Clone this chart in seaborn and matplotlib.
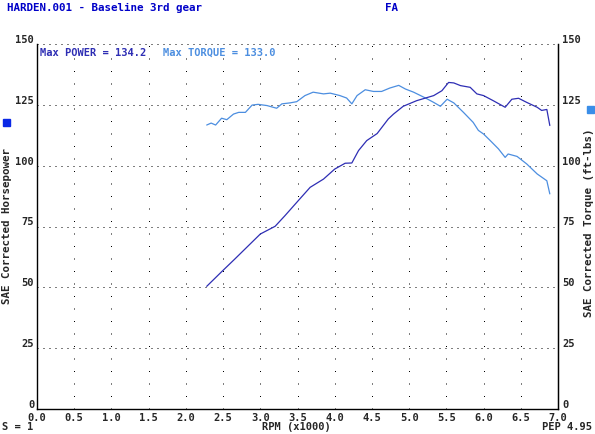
import numpy as np
import pandas as pd
import seaborn as sns
import matplotlib
matplotlib.use("Agg")
import matplotlib.pyplot as plt

# power curve (rpm x1000, hp)
hp_rpm = [2.28, 2.48, 2.66, 2.84, 3.00, 3.20, 3.33, 3.53, 3.67, 3.85, 4.00, 4.14, 4.23,
          4.32, 4.43, 4.57, 4.72, 4.79, 4.92, 5.10, 5.33, 5.44, 5.53, 5.60, 5.69, 5.82,
          5.91, 6.00, 6.13, 6.29, 6.38, 6.47, 6.58, 6.72, 6.78, 6.85, 6.89]
hp = [50.4, 56.4, 61.7, 67.1, 71.9, 75.1, 79.4, 86.3, 91.1, 94.5, 98.6, 101.0, 101.1,
      106.2, 110.3, 113.2, 119.2, 121.2, 124.4, 126.7, 128.8, 130.8, 134.2, 134.0, 132.9, 132.2,
      129.5, 128.8, 126.7, 124.0, 127.3, 127.7, 126.0, 124.0, 122.7, 123.1, 116.5]

# torque curve (rpm x1000, ft-lbs)
tq_rpm = [2.28, 2.34, 2.40, 2.48, 2.55, 2.64, 2.71, 2.80, 2.89, 2.97, 3.09, 3.22, 3.29,
          3.40, 3.49, 3.60, 3.71, 3.85, 3.94, 4.07, 4.16, 4.23, 4.30, 4.41, 4.52, 4.63,
          4.74, 4.86, 4.95, 5.06, 5.22, 5.33, 5.42, 5.51, 5.60, 5.73, 5.86, 5.93, 6.00,
          6.09, 6.20, 6.29, 6.33, 6.45, 6.58, 6.72, 6.85, 6.89]
torque = [116.7, 117.5, 116.7, 119.5, 118.9, 121.2, 121.9, 121.9, 124.9, 125.2, 124.7, 123.6, 125.4,
          125.8, 126.3, 128.8, 130.2, 129.5, 129.8, 128.8, 127.8, 125.4, 128.8, 131.2, 130.5, 130.5,
          131.9, 133.0, 131.5, 130.2, 127.8, 126.0, 124.4, 127.3, 125.8, 121.9, 117.8, 114.5, 113.0,
          110.3, 106.9, 103.4, 104.8, 103.8, 100.7, 96.6, 93.8, 88.4]

x_ticks = np.arange(0, 7.01, 0.5)
y_ticks = [0, 25, 50, 75, 100, 125, 150]

POWER_C = "#2e2eb4"
TORQUE_C = "#4c8ee0"
TITLE_C = "#0000c8"

sns.set_style("white")
plt.rcParams["font.family"] = ["DejaVu Sans Mono"]
plt.rcParams["font.weight"] = "bold"

df_hp = pd.DataFrame({"rpm": hp_rpm, "val": hp})
df_tq = pd.DataFrame({"rpm": tq_rpm, "val": torque})

fig = plt.figure(figsize=(5.95, 4.35), dpi=100)
ax = fig.add_axes([37 / 595, 25 / 435, 521 / 595, 365 / 435])

sns.lineplot(data=df_tq, x="rpm", y="val", ax=ax, color=TORQUE_C, lw=0.9)
sns.lineplot(data=df_hp, x="rpm", y="val", ax=ax, color=POWER_C, lw=0.9)

ax.set_xlim(0, 7)
ax.set_ylim(0, 150)
ax.set_xlabel("")
ax.set_ylabel("")

# dotted grid like the dyno printout
for y in y_ticks[1:]:
    ax.axhline(y, color="black", lw=0.72, ls=(0, (1, 5)), zorder=0)
for x in x_ticks[1:-1]:
    ax.axvline(x, color="black", lw=0.72, ls=(0, (1, 11.5)), zorder=0)

for s in ["left", "right", "bottom"]:
    ax.spines[s].set_color("black")
    ax.spines[s].set_linewidth(1.0)
ax.spines["top"].set_visible(False)

ax.set_xticks(x_ticks)
ax.set_xticklabels([f"{v:.1f}" for v in x_ticks], fontsize=7.5)
ax.set_yticks(y_ticks)
ax.set_yticklabels([str(v) for v in y_ticks], fontsize=7.5)
ax.tick_params(axis="both", length=0, pad=2)
for lab in ax.get_yticklabels():
    lab.set_va("bottom")

ax2 = ax.twinx()
ax2.set_ylim(0, 150)
ax2.set_yticks(y_ticks)
ax2.set_yticklabels([str(v) for v in y_ticks], fontsize=7.5)
ax2.tick_params(axis="y", length=0, pad=3)
for lab in ax2.get_yticklabels():
    lab.set_va("bottom")
for s in ["top", "left", "bottom"]:
    ax2.spines[s].set_visible(False)
ax2.spines["right"].set_color("black")

box = dict(facecolor="white", edgecolor="none", pad=0.5)
ax.text(0.005, 0.993, "Max POWER = 134.2", transform=ax.transAxes, color=POWER_C,
        fontsize=7.5, va="top", ha="left", bbox=box, zorder=5)
ax.text(0.242, 0.993, "Max TORQUE = 133.0", transform=ax.transAxes, color=TORQUE_C,
        fontsize=7.5, va="top", ha="left", bbox=box, zorder=5)

fig.text(7 / 595, 1 - 8 / 435, "HARDEN.001 - Baseline 3rd gear", color=TITLE_C,
         fontsize=7.8, va="center", ha="left")
fig.text(385 / 595, 1 - 8 / 435, "FA", color=TITLE_C, fontsize=7.8, va="center", ha="left")

fig.text(7 / 595, 1 - 226 / 435, "SAE Corrected Horsepower", rotation=90,
         fontsize=7.8, va="center", ha="center")
fig.text(589 / 595, 1 - 223 / 435, "SAE Corrected Torque (ft-lbs)", rotation=90,
         fontsize=7.8, va="center", ha="center")
fig.patches.append(plt.Rectangle((3 / 595, 1 - 127 / 435), 7 / 595, 7 / 435,
                                 color="#0a28e6", transform=fig.transFigure))
fig.patches.append(plt.Rectangle((587 / 595, 1 - 114 / 435), 7 / 595, 7 / 435,
                                 color="#3a8ee8", transform=fig.transFigure))

fig.text(2 / 595, 1 - 427 / 435, "S = 1", fontsize=7.5, va="center", ha="left")
fig.text(296 / 595, 1 - 427 / 435, "RPM (x1000)", fontsize=7.5, va="center", ha="center")
fig.text(592 / 595, 1 - 427 / 435, "PEP 4.95", fontsize=7.5, va="center", ha="right")

fig.savefig("out.png", dpi=100, facecolor="white")
